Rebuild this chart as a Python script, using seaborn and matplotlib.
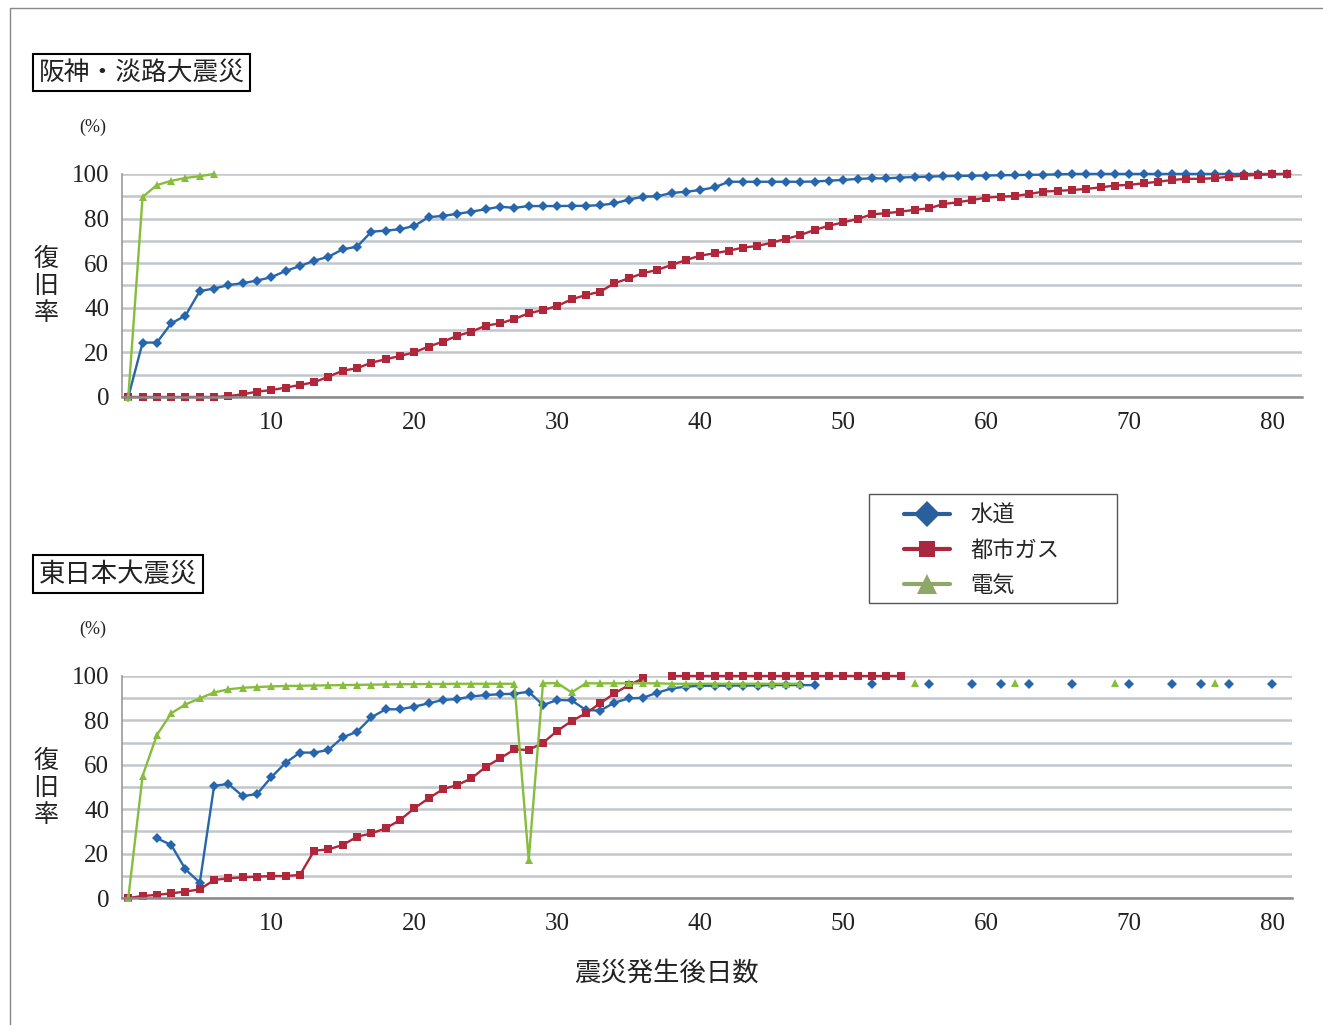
import numpy as np
import pandas as pd
import seaborn as sns
import matplotlib.pyplot as plt
from matplotlib.lines import Line2D
from matplotlib.patches import Rectangle

days = np.arange(82)

# 阪神・淡路大震災 (%)
hanshin_water = [0, 24.4, 24.4, 33, 36.5, 47.5, 48.6, 50.2, 51, 52.2,
                 53.7, 56.5, 58.7, 61.1, 62.9, 66.2, 67.4, 74.1, 74.6, 75.2,
                 76.7, 80.6, 81.2, 82.1, 83.1, 84.2, 85.3, 84.8, 85.6, 85.6,
                 85.6, 85.7, 85.7, 86, 86.8, 88.5, 89.8, 90, 91.5, 92,
                 92.8, 94, 96.5, 96.5, 96.5, 96.5, 96.5, 96.5, 96.6, 97,
                 97.3, 97.8, 98, 98, 98.4, 98.6, 98.8, 99, 99.1, 99.2,
                 99.3, 99.4, 99.5, 99.6, 99.7, 99.8, 100, 100, 100, 100,
                 100, 100, 100, 100, 100, 100, 100, 100, 100, 100,
                 100, 100]
hanshin_gas = [0, 0, 0, 0, 0, 0, 0, 0.4, 1.2, 2.4,
               3.1, 4.2, 5.4, 6.6, 9.1, 11.8, 12.9, 15.4, 16.9, 18.4,
               20, 22.6, 24.8, 27.4, 29.3, 32, 33, 35, 37.5, 39,
               40.8, 43.8, 45.7, 47.2, 51, 53.2, 55.5, 57, 59.2, 61.4,
               63.4, 64.4, 65.6, 67, 67.7, 69.2, 70.9, 72.6, 74.9, 76.8,
               78.3, 79.8, 81.9, 82.4, 83.1, 83.9, 84.6, 86.5, 87.3, 88.3,
               89.4, 89.8, 90.1, 91, 92.1, 92.4, 92.8, 93.3, 94, 94.8,
               95.1, 95.8, 96.5, 97.3, 97.8, 97.8, 98.1, 98.8, 99.2, 99.6,
               99.8, 100]
hanshin_elec = [0, 89.7, 95, 96.9, 98.2, 99, 100] + [None] * 75

# 東日本大震災 (%)
tohoku_water = [None, None, 26.9, 23.9, 12.9, 6.9, 50.5, 51.4, 45.9, 46.8,
                54.4, 60.9, 65.5, 65.5, 66.7, 72.4, 74.9, 81.4, 85, 85,
                86.2, 87.7, 89.2, 89.6, 90.8, 91.4, 91.8, 92, 92.9, 86.9,
                89.2, 89, 84.7, 84.4, 88, 89.9, 90.2, 92.5, 94.4, 95.2,
                95.6, 95.6, 95.7, 95.7, 95.7, 95.9, 95.9, 95.9, 95.9, None,
                None, None, 96.3, None, None, None, 96.3, None, None, 96.3,
                None, 96.3, None, 96.3, None, None, 96.3, None, None, None,
                96.3, None, None, 96.3, None, 96.3, None, 96.3, None, None,
                96.3, None]
tohoku_gas = [0, 0.9, 1.4, 2.1, 2.9, 3.9, 8.1, 8.9, 9.3, 9.6,
              9.9, 9.9, 10.4, 21.3, 21.9, 23.9, 27.6, 29.1, 31.4, 35.1,
              40.4, 44.9, 49, 50.9, 53.9, 59.1, 62.9, 66.9, 66.7, 69.9,
              75.3, 79.7, 83.2, 87.7, 92.2, 95.9, 98.9, None, 100, 100,
              100, 100, 100, 100, 100, 100, 100, 100, 100, 100,
              100, 100, 100, 100, 100, None, None, None, None, None,
              None, None, None, None, None, None, None, None, None, None,
              None, None, None, None, None, None, None, None, None, None,
              None, None]
tohoku_elec = [0, 55, 73.4, 83.2, 87.2, 89.9, 92.6, 94, 94.7, 95,
               95.3, 95.5, 95.6, 95.7, 95.8, 95.9, 96, 96.1, 96.2, 96.3,
               96.3, 96.4, 96.4, 96.5, 96.5, 96.5, 96.5, 96.5, 17.1, 96.7,
               96.8, 92.6, 96.7, 96.7, 96.7, 96.7, 96.7, 96.7, 96.5, 96.5,
               96.5, 96.5, 96.5, 96.5, 96.5, 96.5, 96.5, 96.5, None, None,
               None, None, None, None, None, 97, None, None, None, None,
               None, None, 97, None, None, None, None, None, None, 97,
               None, None, None, None, None, None, 97, None, None, None,
               None, None]

labels = ["水道", "都市ガス", "電気"]
colors = ["#2766ad", "#b0263a", "#86bd3c"]
legend_colors = ["#2a5f9e", "#a8283f", "#8ea86a"]
markers = ["D", "s", "^"]
msizes = [5, 5.5, 6]

sns.set_theme(style="white")
plt.rcParams["font.family"] = ["Noto Sans CJK JP", "DejaVu Sans"]

fig = plt.figure(figsize=(13.23, 10.25), dpi=100)
ax1 = fig.add_axes([0.0920, 0.6127, 0.8921, 0.2176])
ax2 = fig.add_axes([0.0920, 0.1239, 0.8846, 0.2166])


def segs(vals):
    d = pd.DataFrame({"day": days, "value": vals}).dropna()
    d["seg"] = (d["day"].diff() != 1).cumsum()
    return d


def draw(ax, series):
    for vals, c, m, ms in zip(series, colors, markers, msizes):
        d = segs(vals)
        sns.lineplot(data=d, x="day", y="value", units="seg", estimator=None,
                     color=c, marker=m, markersize=ms, markeredgewidth=0,
                     lw=1.7, clip_on=False, legend=False, ax=ax)


draw(ax1, [hanshin_water, hanshin_gas, hanshin_elec])
draw(ax2, [tohoku_water, tohoku_gas, tohoku_elec])

for ax, xmax in [(ax1, 82.08), (ax2, 81.38)]:
    ax.set_xlim(-0.46, xmax)
    ax.set_ylim(0, 100)
    ax.set_xlabel("")
    ax.set_ylabel("")
    ax.set_yticks(range(0, 101, 20))
    ax.set_yticks(range(10, 100, 20), minor=True)
    ax.set_xticks(range(10, 81, 10))
    ax.set_xticks(range(0, 82), minor=True)
    ax.grid(axis="y", which="both", color="#c3c6ca", lw=1.8)
    ax.set_axisbelow(True)
    for s in ["top", "right"]:
        ax.spines[s].set_visible(False)
    ax.spines["left"].set_color("#999999")
    ax.spines["left"].set_linewidth(1.2)
    ax.spines["bottom"].set_color("#8a8a8a")
    ax.spines["bottom"].set_linewidth(1.8)
    ax.tick_params(axis="y", which="both", direction="out", length=4,
                   width=1, color="#999999", pad=5)
    ax.tick_params(axis="x", which="major", direction="in", length=6,
                   width=1.2, color="black", pad=11)
    ax.tick_params(axis="x", which="minor", direction="out", length=2.5,
                   width=0.8, color="#aaaaaa")
    ax.tick_params(which="major", labelsize=18, labelcolor="#222222",
                   labelfontfamily="Liberation Serif")

# outer frame
fig.add_artist(Line2D([0.00756, 0.00756, 1.0], [0.0, 0.9922, 0.9922],
                      transform=fig.transFigure, color="#888888", lw=1))

box = dict(boxstyle="square,pad=0.22", fc="white", ec="black", lw=1.5)
fig.text(0.0292, 0.9293, "阪神・淡路大震災", fontsize=18.5, ha="left",
         va="center", bbox=box, color="#222222")
fig.text(0.0292, 0.4400, "東日本大震災", fontsize=19, ha="left",
         va="center", bbox=box, color="#222222")

for y in [0.876, 0.3863]:
    fig.text(0.0703, y, "(%)", fontsize=13, ha="center", va="center",
             family="Liberation Serif", color="#222222")
for y in [0.721, 0.2312]:
    fig.text(0.0348, y, "復\n旧\n率", fontsize=18, ha="center",
             va="center", linespacing=1.05, color="#222222")

fig.text(0.504, 0.0507, "震災発生後日数", fontsize=19, ha="center",
         va="center", color="#222222")

# legend
fig.add_artist(Rectangle((0.6568, 0.4117), 0.1875, 0.1063,
                         transform=fig.transFigure, fill=False,
                         ec="#555555", lw=1))
handles = [Line2D([0], [0], color=c, lw=3, marker=m, markersize=s,
                  markeredgewidth=0)
           for c, m, s in zip(legend_colors, markers, [13, 11.5, 14])]
fig.legend(handles, labels, loc="upper left",
           bbox_to_anchor=(0.683, 0.5085), frameon=False, fontsize=16,
           handlelength=2.1, handletextpad=0.9, labelspacing=0.55,
           borderpad=0, borderaxespad=0)

fig.savefig("out.png", dpi=100)
